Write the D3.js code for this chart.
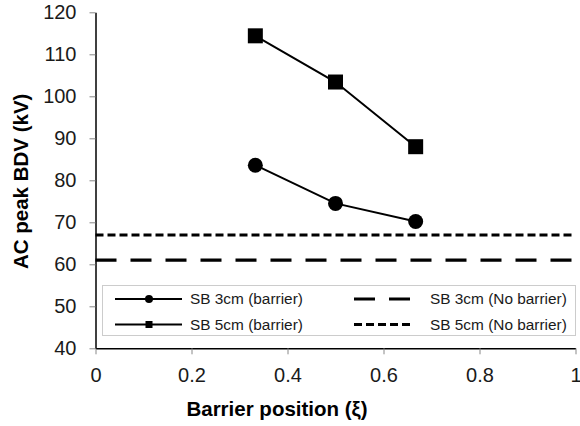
<!DOCTYPE html>
<html>
  <head>
    <meta charset="UTF-8" />
    <style>
      body {
        margin: 0;
        background: #fff;
      }
      svg {
        display: block;
        font-family: "Liberation Sans", Arial, sans-serif;
      }
      .tick line {
        stroke: #888;
      }
      .tick text {
        fill: #1a1a1a;
        font-size: 20px;
      }
    </style>
  </head>
  <body>
    <svg></svg>

    <script src="https://d3js.org/d3.v7.min.js"></script>

    <script>
      let width = 580,
        height = 426;

      // barrier positions and measured breakdown voltages
      const positions = [0.333, 0.5, 0.667];
      const sb3Barrier = [83.6, 74.5, 70.2];
      const sb5Barrier = [114.4, 103.4, 88.0];
      // reference levels without barrier
      const sb3NoBarrier = 61.0;
      const sb5NoBarrier = 67.0;

      const xTicks = [0, 0.2, 0.4, 0.6, 0.8, 1];
      const yTicks = [40, 50, 60, 70, 80, 90, 100, 110, 120];

      let svg = d3
        .select("svg")
        .attr("width", width)
        .attr("height", height);

      let x = d3.scaleLinear().domain([0, 1]).range([95.5, 575.5]);
      let y = d3.scaleLinear().domain([40, 120]).range([348.3, 12.3]);

      // axes
      let xAxis = d3
        .axisBottom(x)
        .tickValues(xTicks)
        .tickFormat(d3.format("~g"))
        .tickSize(6)
        .tickSizeOuter(0)
        .tickPadding(14);
      let yAxis = d3
        .axisLeft(y)
        .tickValues(yTicks)
        .tickSize(6)
        .tickSizeOuter(0)
        .tickPadding(13);

      let gx = svg
        .append("g")
        .attr("transform", "translate(0," + y(40) + ")")
        .call(xAxis);
      let gy = svg
        .append("g")
        .attr("transform", "translate(" + x(0) + ",0)")
        .call(yAxis);
      gx.select(".domain").attr("stroke", "#000").attr("stroke-width", 1.5);
      gy.select(".domain").attr("stroke", "#000").attr("stroke-width", 1.5);
      gx.selectAll(".tick text").attr("dy", "0.71em");

      // axis titles
      svg
        .append("text")
        .attr("x", 277)
        .attr("y", 416)
        .attr("text-anchor", "middle")
        .style("font-size", "20.5px")
        .style("font-weight", "bold")
        .text("Barrier position (ξ)");
      svg
        .append("text")
        .attr("transform", "translate(28," + (y(80) + 1) + ") rotate(-90)")
        .attr("text-anchor", "middle")
        .style("font-size", "20.5px")
        .style("font-weight", "bold")
        .text("AC peak BDV (kV)");

      // no-barrier reference lines
      svg
        .append("line")
        .attr("x1", x(0))
        .attr("x2", x(1))
        .attr("y1", y(sb3NoBarrier))
        .attr("y2", y(sb3NoBarrier))
        .attr("stroke", "#000")
        .attr("stroke-width", 3.2)
        .attr("stroke-dasharray", "21,14");
      svg
        .append("line")
        .attr("x1", x(0))
        .attr("x2", x(1))
        .attr("y1", y(sb5NoBarrier))
        .attr("y2", y(sb5NoBarrier))
        .attr("stroke", "#000")
        .attr("stroke-width", 3)
        .attr("stroke-dasharray", "8,4");

      let line = d3
        .line()
        .x((d, i) => x(positions[i]))
        .y((d) => y(d));

      // SB 3cm with barrier: circles
      svg
        .append("path")
        .datum(sb3Barrier)
        .attr("d", line)
        .attr("fill", "none")
        .attr("stroke", "#000")
        .attr("stroke-width", 2);
      svg
        .append("g")
        .selectAll("circle")
        .data(sb3Barrier)
        .enter()
        .append("circle")
        .attr("cx", (d, i) => x(positions[i]))
        .attr("cy", (d) => y(d))
        .attr("r", 7.5)
        .attr("fill", "#000");

      // SB 5cm with barrier: squares
      svg
        .append("path")
        .datum(sb5Barrier)
        .attr("d", line)
        .attr("fill", "none")
        .attr("stroke", "#000")
        .attr("stroke-width", 2);
      svg
        .append("g")
        .selectAll("rect")
        .data(sb5Barrier)
        .enter()
        .append("rect")
        .attr("x", (d, i) => x(positions[i]) - 7.5)
        .attr("y", (d) => y(d) - 7.5)
        .attr("width", 15)
        .attr("height", 15)
        .attr("fill", "#000");

      // legend
      let legend = svg.append("g").attr("class", "legend");
      legend
        .append("rect")
        .attr("x", 102.5)
        .attr("y", 285.5)
        .attr("width", 473)
        .attr("height", 50)
        .attr("fill", "#fff")
        .attr("stroke", "#ccc")
        .attr("stroke-width", 1);

      const legendRows = [299, 324.5];
      const legendLabels = [
        "SB 3cm (barrier)",
        "SB 5cm (barrier)",
        "SB 3cm (No barrier)",
        "SB 5cm (No barrier)",
      ];

      legendRows.forEach((ly, i) => {
        legend
          .append("line")
          .attr("x1", 115)
          .attr("x2", 182)
          .attr("y1", ly)
          .attr("y2", ly)
          .attr("stroke", "#000")
          .attr("stroke-width", 2);
        legend
          .append("line")
          .attr("x1", 354)
          .attr("x2", 414)
          .attr("y1", ly)
          .attr("y2", ly)
          .attr("stroke", "#000")
          .attr("stroke-width", 3)
          .attr("stroke-dasharray", i == 0 ? "21,14" : "8,4");
        legend
          .append("text")
          .attr("x", 190)
          .attr("y", ly)
          .attr("dy", "0.35em")
          .style("font-size", "15.4px")
          .style("fill", "#1a1a1a")
          .text(legendLabels[i]);
        legend
          .append("text")
          .attr("x", 430)
          .attr("y", ly)
          .attr("dy", "0.35em")
          .style("font-size", "15.4px")
          .style("fill", "#1a1a1a")
          .text(legendLabels[i + 2]);
      });
      legend
        .append("circle")
        .attr("cx", 149)
        .attr("cy", legendRows[0])
        .attr("r", 4)
        .attr("fill", "#000");
      legend
        .append("rect")
        .attr("x", 145.5)
        .attr("y", legendRows[1] - 3.5)
        .attr("width", 7)
        .attr("height", 7)
        .attr("fill", "#000");
    </script>
  </body>
</html>
